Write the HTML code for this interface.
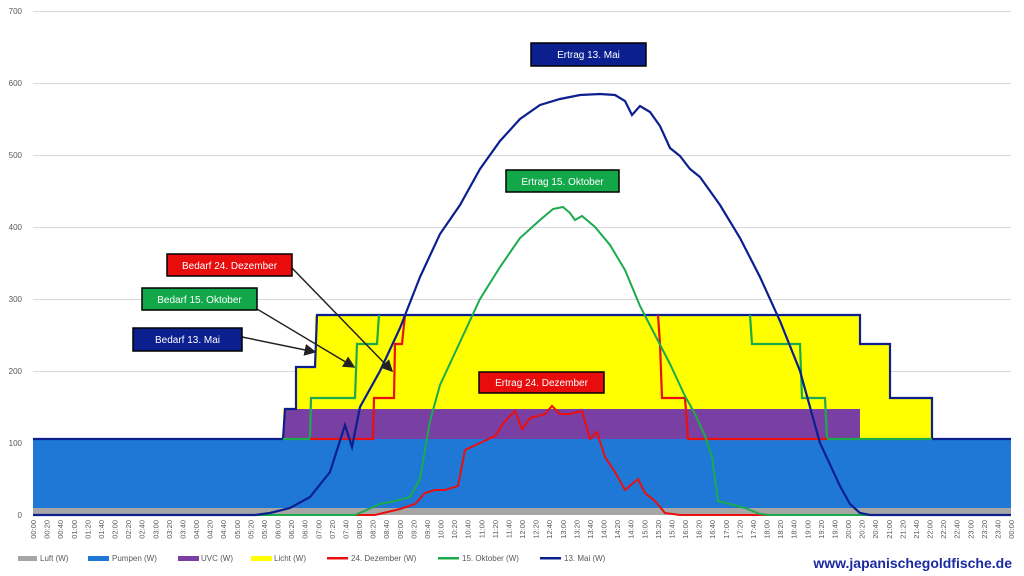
<!DOCTYPE html>
<html><head><meta charset="utf-8"><style>
body{margin:0;background:#fff;}
svg{display:block;font-family:"Liberation Sans",sans-serif;}
</style></head><body>
<svg width="1024" height="576" viewBox="0 0 1024 576">
<g stroke="#d9d9d9" stroke-width="1">
<line x1="33" y1="11.5" x2="1011" y2="11.5"/><line x1="33" y1="83.5" x2="1011" y2="83.5"/><line x1="33" y1="155.5" x2="1011" y2="155.5"/><line x1="33" y1="227.5" x2="1011" y2="227.5"/><line x1="33" y1="299.5" x2="1011" y2="299.5"/><line x1="33" y1="371.5" x2="1011" y2="371.5"/><line x1="33" y1="443.5" x2="1011" y2="443.5"/>
</g>
<g font-size="8" fill="#595959" text-anchor="end">
<text x="22" y="14">700</text><text x="22" y="86">600</text><text x="22" y="158">500</text><text x="22" y="230">400</text><text x="22" y="302">300</text><text x="22" y="374">200</text><text x="22" y="446">100</text><text x="22" y="518">0</text>
</g>
<!-- yellow area -->
<polygon fill="#ffff00" points="283,439 283,409 296,409 296,367 315,367 315,315 860,315 860,344 890,344 890,398 932,398 932,439"/>
<!-- pumpen -->
<rect x="33" y="439" width="978" height="69" fill="#1f78d6"/>
<!-- purple -->
<polygon fill="#7a3fa3" points="283,439 285,409 860,409 860,439"/>
<!-- luft -->
<rect x="33" y="508" width="978" height="7" fill="#a6a6a6"/>
<!-- bedarf outlines -->
<polyline fill="none" stroke="#0b1f8f" stroke-width="2.2" points="33,439 283,439 285,409 296,409 296,367 315,367 317,315 860,315 860,344 890,344 890,398 932,398 932,439 1011,439"/>
<polyline fill="none" stroke="#1bab4d" stroke-width="2.2" points="283,439 310,439 311,398 355,398 357,344 377,344 379,315"/>
<polyline fill="none" stroke="#1bab4d" stroke-width="2.2" points="750,315 752,344 800,344 802,398 825,398 827,439 932,439"/>
<polyline fill="none" stroke="#e81010" stroke-width="2.2" points="310,439 373,439 374,398 394,398 395,344 402,344 405,315"/>
<polyline fill="none" stroke="#e81010" stroke-width="2.2" points="658,315 660,344 662,398 685,398 688,439 827,439"/>
<!-- ertrag curves -->
<polyline fill="none" stroke="#e81010" stroke-width="2" points="33,515 375,515 400,509 415,504 425,493 435,490 445,490 458,486 465,450 480,443 495,436 505,421 515,411 522,429 530,418 545,414 552,406 560,414 570,414 582,411 590,439 597,432 605,457 615,472 625,490 638,479 645,493 655,501 665,513 680,515 1011,515"/>
<polyline fill="none" stroke="#1bab4d" stroke-width="2" points="33,515 355,515 380,504 395,501 410,497 420,479 430,421 440,385 460,342 480,299 500,267 520,238 540,220 553,209 563,207 570,213 575,220 582,216 595,227 610,245 625,270 640,306 655,335 670,364 685,396 695,414 705,436 712,457 718,501 730,504 745,508 760,514 770,515 1011,515"/>
<polyline fill="none" stroke="#0b1f8f" stroke-width="2.2" points="33,515 255,515 270,513 290,508 310,497 330,472 345,425 352,447 360,407 380,371 400,328 420,277 440,234 460,205 480,169 500,141 520,119 540,105 560,99 580,95 600,94 615,95 625,101 632,115 640,106 650,112 660,126 670,148 680,156 690,169 700,177 720,205 740,238 760,277 780,321 800,371 820,443 840,486 850,504 860,513 870,515 1011,515"/>
<!-- arrows -->
<defs><marker id="ah" markerWidth="8" markerHeight="8" refX="7" refY="4" orient="auto"><path d="M0,0 L8,4 L0,8 z" fill="#222"/></marker></defs>
<g stroke="#222" stroke-width="1.5" marker-end="url(#ah)">
<line x1="292" y1="268" x2="392" y2="371" marker-end="url(#ah)"/>
<line x1="247" y1="303" x2="354" y2="367" marker-end="url(#ah)"/>
<line x1="242" y1="337" x2="315" y2="352" marker-end="url(#ah)"/>
</g>
<!-- label boxes -->
<g font-size="10" fill="#fff" text-anchor="middle" stroke-width="1.5">
<rect x="531" y="43" width="115" height="23" fill="#0b1f8f" stroke="#000"/><text x="588.5" y="58" stroke="none">Ertrag 13. Mai</text>
<rect x="506" y="170" width="113" height="22" fill="#12a84a" stroke="#000"/><text x="562.5" y="185" stroke="none">Ertrag 15. Oktober</text>
<rect x="167" y="254" width="125" height="22" fill="#e80c0c" stroke="#000"/><text x="229.5" y="269" stroke="none">Bedarf 24. Dezember</text>
<rect x="142" y="288" width="115" height="22" fill="#12a84a" stroke="#000"/><text x="199.5" y="303" stroke="none">Bedarf 15. Oktober</text>
<rect x="133" y="328" width="109" height="23" fill="#0b1f8f" stroke="#000"/><text x="187.5" y="343" stroke="none">Bedarf 13. Mai</text>
<rect x="479" y="372" width="125" height="21" fill="#e80c0c" stroke="#000"/><text x="541.5" y="386" stroke="none">Ertrag 24. Dezember</text>
</g>
<!-- x labels -->
<g font-size="7.5" fill="#595959" text-anchor="end">
<text transform="translate(36,520) rotate(-90)">00:00</text>
<text transform="translate(49.6,520) rotate(-90)">00:20</text>
<text transform="translate(63.2,520) rotate(-90)">00:40</text>
<text transform="translate(76.8,520) rotate(-90)">01:00</text>
<text transform="translate(90.3,520) rotate(-90)">01:20</text>
<text transform="translate(103.9,520) rotate(-90)">01:40</text>
<text transform="translate(117.5,520) rotate(-90)">02:00</text>
<text transform="translate(131.1,520) rotate(-90)">02:20</text>
<text transform="translate(144.7,520) rotate(-90)">02:40</text>
<text transform="translate(158.3,520) rotate(-90)">03:00</text>
<text transform="translate(171.8,520) rotate(-90)">03:20</text>
<text transform="translate(185.4,520) rotate(-90)">03:40</text>
<text transform="translate(199,520) rotate(-90)">04:00</text>
<text transform="translate(212.6,520) rotate(-90)">04:20</text>
<text transform="translate(226.2,520) rotate(-90)">04:40</text>
<text transform="translate(239.8,520) rotate(-90)">05:00</text>
<text transform="translate(253.3,520) rotate(-90)">05:20</text>
<text transform="translate(266.9,520) rotate(-90)">05:40</text>
<text transform="translate(280.5,520) rotate(-90)">06:00</text>
<text transform="translate(294.1,520) rotate(-90)">06:20</text>
<text transform="translate(307.7,520) rotate(-90)">06:40</text>
<text transform="translate(321.3,520) rotate(-90)">07:00</text>
<text transform="translate(334.8,520) rotate(-90)">07:20</text>
<text transform="translate(348.4,520) rotate(-90)">07:40</text>
<text transform="translate(362,520) rotate(-90)">08:00</text>
<text transform="translate(375.6,520) rotate(-90)">08:20</text>
<text transform="translate(389.2,520) rotate(-90)">08:40</text>
<text transform="translate(402.8,520) rotate(-90)">09:00</text>
<text transform="translate(416.3,520) rotate(-90)">09:20</text>
<text transform="translate(429.9,520) rotate(-90)">09:40</text>
<text transform="translate(443.5,520) rotate(-90)">10:00</text>
<text transform="translate(457.1,520) rotate(-90)">10:20</text>
<text transform="translate(470.7,520) rotate(-90)">10:40</text>
<text transform="translate(484.3,520) rotate(-90)">11:00</text>
<text transform="translate(497.8,520) rotate(-90)">11:20</text>
<text transform="translate(511.4,520) rotate(-90)">11:40</text>
<text transform="translate(525,520) rotate(-90)">12:00</text>
<text transform="translate(538.6,520) rotate(-90)">12:20</text>
<text transform="translate(552.2,520) rotate(-90)">12:40</text>
<text transform="translate(565.8,520) rotate(-90)">13:00</text>
<text transform="translate(579.3,520) rotate(-90)">13:20</text>
<text transform="translate(592.9,520) rotate(-90)">13:40</text>
<text transform="translate(606.5,520) rotate(-90)">14:00</text>
<text transform="translate(620.1,520) rotate(-90)">14:20</text>
<text transform="translate(633.7,520) rotate(-90)">14:40</text>
<text transform="translate(647.3,520) rotate(-90)">15:00</text>
<text transform="translate(660.8,520) rotate(-90)">15:20</text>
<text transform="translate(674.4,520) rotate(-90)">15:40</text>
<text transform="translate(688,520) rotate(-90)">16:00</text>
<text transform="translate(701.6,520) rotate(-90)">16:20</text>
<text transform="translate(715.2,520) rotate(-90)">16:40</text>
<text transform="translate(728.8,520) rotate(-90)">17:00</text>
<text transform="translate(742.3,520) rotate(-90)">17:20</text>
<text transform="translate(755.9,520) rotate(-90)">17:40</text>
<text transform="translate(769.5,520) rotate(-90)">18:00</text>
<text transform="translate(783.1,520) rotate(-90)">18:20</text>
<text transform="translate(796.7,520) rotate(-90)">18:40</text>
<text transform="translate(810.3,520) rotate(-90)">19:00</text>
<text transform="translate(823.8,520) rotate(-90)">19:20</text>
<text transform="translate(837.4,520) rotate(-90)">19:40</text>
<text transform="translate(851,520) rotate(-90)">20:00</text>
<text transform="translate(864.6,520) rotate(-90)">20:20</text>
<text transform="translate(878.2,520) rotate(-90)">20:40</text>
<text transform="translate(891.8,520) rotate(-90)">21:00</text>
<text transform="translate(905.3,520) rotate(-90)">21:20</text>
<text transform="translate(918.9,520) rotate(-90)">21:40</text>
<text transform="translate(932.5,520) rotate(-90)">22:00</text>
<text transform="translate(946.1,520) rotate(-90)">22:20</text>
<text transform="translate(959.7,520) rotate(-90)">22:40</text>
<text transform="translate(973.3,520) rotate(-90)">23:00</text>
<text transform="translate(986.8,520) rotate(-90)">23:20</text>
<text transform="translate(1000.4,520) rotate(-90)">23:40</text>
<text transform="translate(1014,520) rotate(-90)">00:00</text>
</g>
<!-- legend -->
<g font-size="8" fill="#595959">
<rect x="18" y="556" width="19" height="5" fill="#a6a6a6"/><text x="40" y="561">Luft (W)</text>
<rect x="88" y="556" width="21" height="5" fill="#1f78d6"/><text x="112" y="561">Pumpen (W)</text>
<rect x="178" y="556" width="21" height="5" fill="#7a3fa3"/><text x="201" y="561">UVC (W)</text>
<rect x="251" y="556" width="21" height="5" fill="#ffff00"/><text x="274" y="561">Licht (W)</text>
<rect x="327" y="557" width="21" height="2.5" fill="#e81010"/><text x="351" y="561">24. Dezember (W)</text>
<rect x="438" y="557" width="21" height="2.5" fill="#1bab4d"/><text x="462" y="561">15. Oktober (W)</text>
<rect x="540" y="557" width="21" height="2.5" fill="#0b1f8f"/><text x="564" y="561">13. Mai (W)</text>
</g>
<text x="1012" y="568" text-anchor="end" font-size="14" font-weight="bold" fill="#1a2aa0">www.japanischegoldfische.de</text>
</svg>
</body></html>
